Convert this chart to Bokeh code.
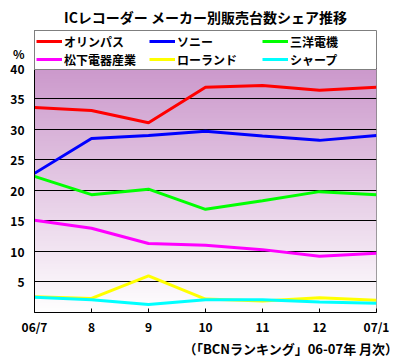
import numpy as np
from bokeh.plotting import figure
from bokeh.models import Legend, LegendItem, FixedTicker, Range1d, Title
from bokeh.embed import file_html
from bokeh.resources import INLINE

months = ["06/7", "8", "9", "10", "11", "12", "07/1"]
olympus = [33.6, 33.1, 31.1, 36.9, 37.2, 36.4, 36.9]
sony = [22.8, 28.5, 29.0, 29.7, 28.9, 28.2, 29.0]
sanyo = [22.3, 19.3, 20.2, 16.9, 18.3, 19.8, 19.3]
matsushita = [15.1, 13.8, 11.3, 11.0, 10.3, 9.2, 9.7]
roland = [2.6, 2.3, 6.0, 2.2, 1.9, 2.4, 2.0]
sharp = [2.5, 2.1, 1.3, 2.1, 2.1, 1.7, 1.5]

names = ["オリンパス", "ソニー", "三洋電機", "松下電器産業", "ローランド", "シャープ"]
series = [olympus, sony, sanyo, matsushita, roland, sharp]
colors = ["#FF0000", "#0000FF", "#00FF00", "#FF00FF", "#FFFF00", "#00FFFF"]
y_ticks = [5, 10, 15, 20, 25, 30, 35, 40]
y_max = 40
unit_pos = 42.5  # where the "%" unit label sits

FONT = "Noto Sans CJK JP"
x = list(range(len(months)))

p = figure(width=402, height=356, x_range=Range1d(0, len(months) - 1), y_range=Range1d(0, 46.2),
           output_backend="svg", toolbar_location=None,
           min_border_left=34, min_border_right=26, min_border_top=30, min_border_bottom=44,
           background_fill_color="white", border_fill_color="white")
p.title.text = "ICレコーダー メーカー別販売台数シェア推移"
p.title.align = "center"
p.title.offset = -10
p.title.standoff = 8
p.title.text_font = FONT
p.title.text_font_size = "14px"
p.title.text_font_style = "bold"
p.title.text_color = "black"

# gradient background
n = 200
t = np.linspace(0, 1, n)  # 0 bottom -> 1 top
top = np.array([204, 153, 204]); bot = np.array([255, 255, 255])
img = np.empty((n, 1), dtype=np.uint32)
view = img.view(dtype=np.uint8).reshape((n, 1, 4))
for i in range(n):
    c = bot + (top - bot) * t[i]
    view[i, 0, 0] = int(c[0]); view[i, 0, 1] = int(c[1]); view[i, 0, 2] = int(c[2]); view[i, 0, 3] = 255
bg = p.image_rgba(image=[img], x=0, y=0, dw=len(months) - 1, dh=y_max)
bg.level = "image"

items = []
for name, s, c in zip(names, series, colors):
    r = p.line(x, s, line_color=c, line_width=3)
    items.append(LegendItem(label=name, renderers=[r]))

legend = Legend(items=items, ncols=3, location="top_left", orientation="horizontal")
legend.glyph_width = 26
legend.glyph_height = 18
legend.label_standoff = 2
legend.label_width = 85
legend.label_height = 18
legend.spacing = 0
legend.padding = 1
legend.margin = 0
legend.border_line_color = "black"
legend.border_line_width = 1
legend.background_fill_color = "white"
legend.background_fill_alpha = 1
legend.label_text_font = FONT
legend.label_text_font_size = "12px"
legend.label_text_font_style = "bold"
legend.label_text_color = "black"
p.add_layout(legend)

p.xaxis.ticker = FixedTicker(ticks=x)
p.xaxis.major_label_overrides = {i: m for i, m in enumerate(months)}
p.yaxis.ticker = FixedTicker(ticks=y_ticks + [unit_pos])
p.yaxis.major_label_overrides = {unit_pos: "%"}
for ax in (p.xaxis, p.yaxis):
    ax.axis_line_color = "black"
    ax.axis_line_width = 1
    ax.major_label_text_font = FONT
    ax.major_label_text_font_size = "12px"
    ax.major_label_text_font_style = "bold"
    ax.major_label_text_color = "black"
    ax.minor_tick_line_color = None
p.xaxis.major_tick_in = 4
p.xaxis.major_tick_out = 0
p.xaxis.major_tick_line_color = "black"
p.xaxis.major_label_standoff = 5
p.yaxis.major_tick_in = 0
p.yaxis.major_tick_out = 0
p.yaxis.major_label_standoff = 10

p.xgrid.grid_line_color = None
p.ygrid.ticker = FixedTicker(ticks=y_ticks)
p.ygrid.grid_line_color = "black"
p.ygrid.grid_line_width = 1
p.outline_line_color = "#808080"

src = Title(text="（「BCNランキング」06-07年 月次）", align="right", offset=-22, standoff=-2,
            text_font=FONT, text_font_size="13px", text_font_style="bold", text_color="black")
p.add_layout(src, "below")

open("out.html", "w").write(file_html(p, INLINE))
